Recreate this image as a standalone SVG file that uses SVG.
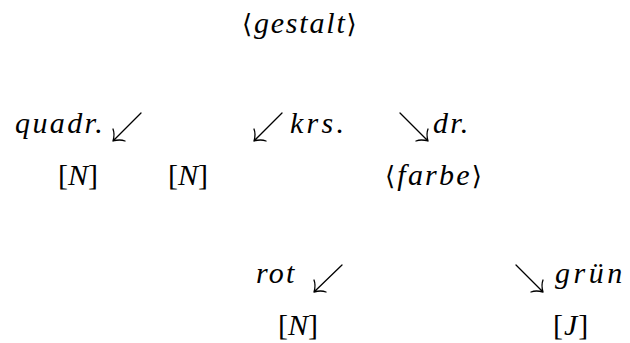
<svg xmlns="http://www.w3.org/2000/svg" width="630" height="343" viewBox="0 0 630 343">
<rect width="630" height="343" fill="#fff"/>
<g id="gestalt"><text x="242" y="33" font-family="Liberation Serif" font-style="italic" font-size="30" letter-spacing="1.8"><tspan font-family="DejaVu Serif" font-style="normal" font-size="26">⟨</tspan>gestalt<tspan font-family="DejaVu Serif" font-style="normal" font-size="26">⟩</tspan></text></g>
<text id="quadr" x="15" y="133" font-family="Liberation Serif" font-style="italic" font-size="30" letter-spacing="2.4">quadr.</text>
<g id="krs"><text x="290" y="133" font-family="Liberation Serif" font-style="italic" font-size="30" letter-spacing="3.3">krs.</text></g>
<g id="dr"><text x="433" y="133" font-family="Liberation Serif" font-style="italic" font-size="30" letter-spacing="2.2">dr.</text></g>
<text id="n1" x="58" y="185" font-family="Liberation Serif" font-style="italic" font-size="30"><tspan font-style="normal">[</tspan>N<tspan font-style="normal">]</tspan></text>
<g id="n2"><text x="168" y="185" font-family="Liberation Serif" font-style="italic" font-size="30"><tspan font-style="normal">[</tspan>N<tspan font-style="normal">]</tspan></text></g>
<g id="farbe"><text x="385" y="185" font-family="Liberation Serif" font-style="italic" font-size="30" letter-spacing="2.2"><tspan font-family="DejaVu Serif" font-style="normal" font-size="26">⟨</tspan>farbe<tspan font-family="DejaVu Serif" font-style="normal" font-size="26">⟩</tspan></text></g>
<g id="rot"><text x="256" y="283" font-family="Liberation Serif" font-style="italic" font-size="30" letter-spacing="2.2">rot</text></g>
<g id="gruen"><text x="555" y="283" font-family="Liberation Serif" font-style="italic" font-size="30" letter-spacing="3.5">grün</text></g>
<g id="n3"><text x="278" y="335" font-family="Liberation Serif" font-style="italic" font-size="30"><tspan font-style="normal">[</tspan>N<tspan font-style="normal">]</tspan></text></g>
<g id="j"><text x="553" y="335" font-family="Liberation Serif" font-style="italic" font-size="30" letter-spacing="1"><tspan font-style="normal">[</tspan>J<tspan font-style="normal">]</tspan></text></g>
<g id="connectors" fill="none" stroke="#000" stroke-width="1.3" stroke-linecap="round">
<path d="M141 113 L113 141 M113 141 Q115 134 113 129 M113 141 Q120 139 125 141"/>
<path d="M282 113 L254 141 M254 141 Q256 134 254 129 M254 141 Q261 139 266 141"/>
<path d="M400 113 L428 141 M428 141 Q426 134 428 129 M428 141 Q421 139 416 141"/>
<path d="M342 265 L314 292 M314 292 Q316 285 314 280 M314 292 Q321 290 326 292"/>
<path d="M516 265 L543 292 M543 292 Q541 285 543 280 M543 292 Q536 290 531 292"/>
</g>
</svg>
